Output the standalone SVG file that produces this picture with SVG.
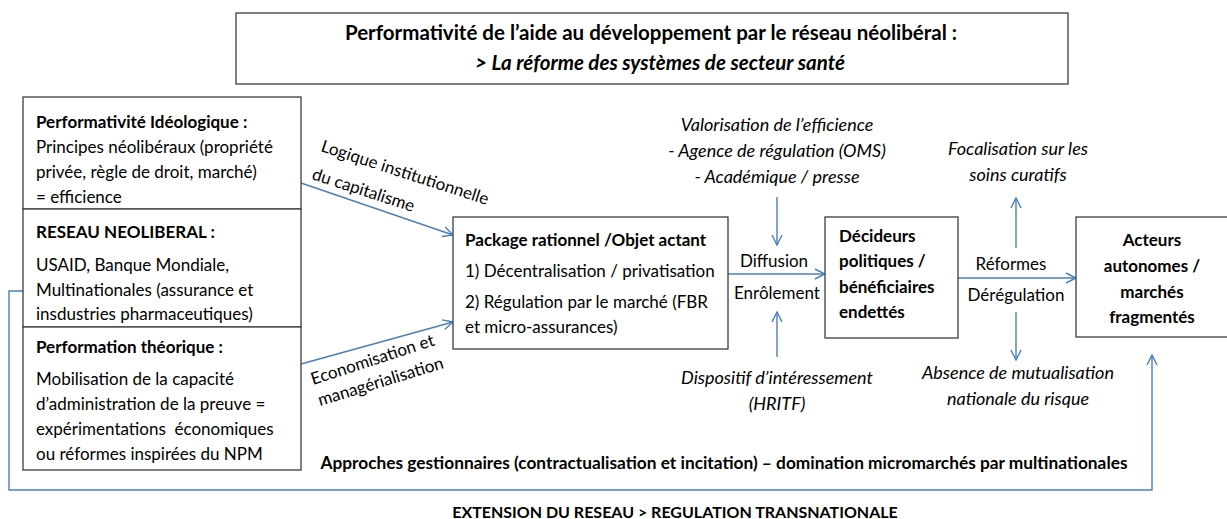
<svg xmlns="http://www.w3.org/2000/svg" width="1227" height="519" viewBox="0 0 1227 519">
<defs>
<marker id="ah" viewBox="0 0 12 12" refX="11" refY="6" markerWidth="12" markerHeight="12" markerUnits="userSpaceOnUse" orient="auto">
<path d="M1,1 L11,6 L1,11" fill="none" stroke="#4a7ebb" stroke-width="1.4"/>
</marker>
<marker id="ahs" viewBox="0 0 12 12" refX="11" refY="6" markerWidth="12" markerHeight="12" markerUnits="userSpaceOnUse" orient="auto-start-reverse">
<path d="M1,1 L11,6 L1,11" fill="none" stroke="#4a7ebb" stroke-width="1.4"/>
</marker>
</defs>
<style>
text{font-family:Lato,"Liberation Sans",sans-serif;font-size:17px;fill:#000}
.b{font-weight:bold}
.i{font-style:italic;font-size:18px}
.c{text-anchor:middle}
.box{fill:#fff;stroke:#3c3c3c;stroke-width:1.3}
.ln{fill:none;stroke:#4a7ebb;stroke-width:1.4}
.t{font-size:20.5px}
.s{font-size:16px}
</style>
<rect width="1227" height="519" fill="#fff"/>
<g id="title">
<rect class="box" x="236" y="13" width="832" height="71"/>
<text class="b c t" x="651" y="40">Performativité de l’aide au développement par le réseau néolibéral :</text>
<text class="b i c t" x="660" y="70">&gt; La réforme des systèmes de secteur santé</text>
</g>
<g id="connectors">
<path class="ln" d="M277,187 V362" marker-start="url(#ahs)" marker-end="url(#ah)"/>
<path class="ln" d="M250,267 H277"/>
<path class="ln" d="M23,291 H9 V490 H1152 V355" marker-end="url(#ah)"/>
<path class="ln" d="M301,183 L453,235" marker-end="url(#ah)"/>
<path class="ln" d="M301,364 L453,322" marker-end="url(#ah)"/>
<path class="ln" d="M728,274 H825" marker-end="url(#ah)"/>
<path class="ln" d="M777,197 V245" marker-end="url(#ah)"/>
<path class="ln" d="M777,357 V312" marker-end="url(#ah)"/>
<path class="ln" d="M958,278 H1076" marker-end="url(#ah)"/>
<path class="ln" d="M1016,248 V198" marker-end="url(#ah)"/>
<path class="ln" d="M1016,312 V360" marker-end="url(#ah)"/>
<text transform="translate(320,151) rotate(18)">Logique institutionnelle</text>
<text transform="translate(311,179) rotate(18)">du capitalisme</text>
<text transform="translate(313,385) rotate(-18)">Economisation et</text>
<text transform="translate(320,406) rotate(-17)">managérialisation</text>
<text class="c" x="774" y="267">Diffusion</text>
<text class="c" x="777" y="299">Enrôlement</text>
<text class="c" x="1011" y="270">Réformes</text>
<text class="c" x="1016" y="301">Dérégulation</text>
<text class="i c" x="777" y="131">Valorisation de l’efficience</text>
<text class="i c" x="777" y="157">- Agence de régulation (OMS)</text>
<text class="i c" x="777" y="183">- Académique / presse</text>
<text class="i c" x="777" y="384">Dispositif d’intéressement</text>
<text class="i c" x="777" y="410">(HRITF)</text>
<text class="i c" x="1018" y="155">Focalisation sur les</text>
<text class="i c" x="1018" y="181">soins curatifs</text>
<text class="i c" x="1018" y="379">Absence de mutualisation</text>
<text class="i c" x="1018" y="405">nationale du risque</text>
<text class="b c" x="724" y="469" style="font-size:17.3px">Approches gestionnaires (contractualisation et incitation) – domination micromarchés par multinationales</text>
<text class="b c s" x="675" y="518">EXTENSION DU RESEAU &gt; REGULATION TRANSNATIONALE</text>
</g>
<g id="ideologique">
<rect class="box" x="23" y="97" width="278" height="112"/>
<text class="b" x="36" y="128">Performativité Idéologique :</text>
<text x="36" y="153">Principes néolibéraux (propriété</text>
<text x="36" y="178">privée, règle de droit, marché)</text>
<text x="36" y="203">= efficience</text>
</g>
<g id="reseau">
<rect class="box" x="23" y="209" width="278" height="118"/>
<text class="b" x="36" y="238">RESEAU NEOLIBERAL :</text>
<text x="36" y="271">USAID, Banque Mondiale,</text>
<text x="36" y="296">Multinationales (assurance et</text>
<text x="36" y="320">insdustries pharmaceutiques)</text>
</g>
<g id="theorique">
<rect class="box" x="23" y="327" width="278" height="143"/>
<text class="b" x="36" y="353">Performation théorique :</text>
<text x="36" y="385">Mobilisation de la capacité</text>
<text x="36" y="410">d’administration de la preuve =</text>
<text x="36" y="435" xml:space="preserve">expérimentations  économiques</text>
<text x="36" y="460">ou réformes inspirées du NPM</text>
</g>
<g id="package">
<rect class="box" x="453" y="217" width="275" height="132"/>
<text class="b" x="465" y="246">Package rationnel /Objet actant</text>
<text x="465" y="277">1) Décentralisation / privatisation</text>
<text x="465" y="308">2) Régulation par le marché (FBR</text>
<text x="465" y="333">et micro-assurances)</text>
</g>
<g id="decideurs">
<rect class="box" x="825" y="217" width="133" height="121"/>
<text class="b" x="839" y="242">Décideurs</text>
<text class="b" x="839" y="267">politiques /</text>
<text class="b" x="839" y="293">bénéficiaires</text>
<text class="b" x="839" y="318">endettés</text>
</g>
<g id="acteurs">
<rect class="box" x="1076" y="217" width="153" height="120"/>
<text class="b c" x="1152" y="246">Acteurs</text>
<text class="b c" x="1152" y="272">autonomes /</text>
<text class="b c" x="1152" y="298">marchés</text>
<text class="b c" x="1152" y="323">fragmentés</text>
</g>
</svg>
